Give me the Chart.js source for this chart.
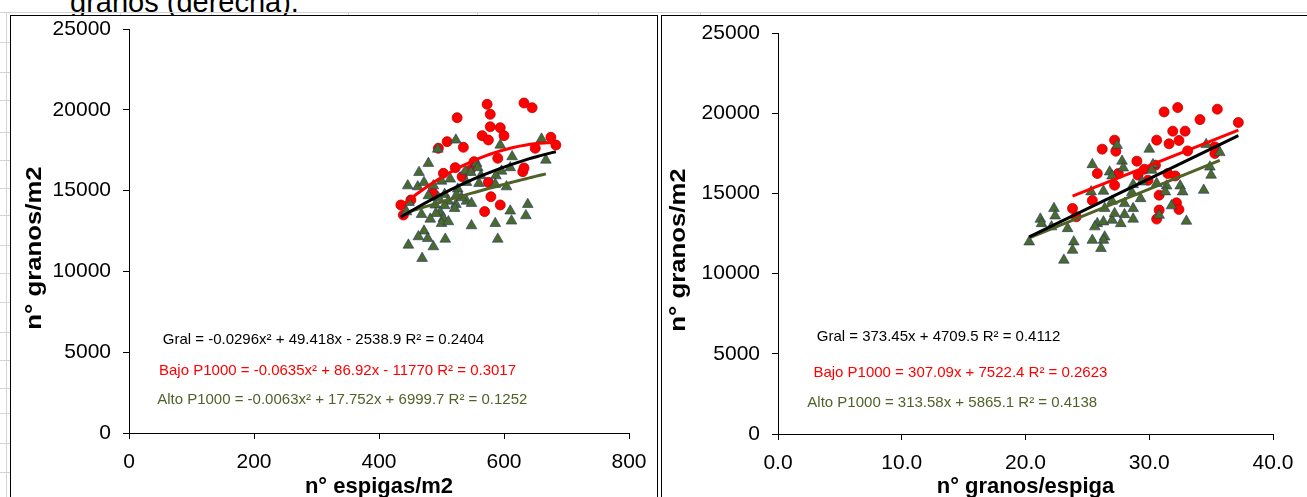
<!DOCTYPE html>
<html>
<head>
<meta charset="utf-8">
<script src="https://cdn.jsdelivr.net/npm/chart.js@4.4.1/dist/chart.umd.min.js"></script>
<style>
  html, body { margin: 0; padding: 0; background: #fff; }
  body { width: 1307px; height: 497px; overflow: hidden; position: relative; font-family: "Liberation Sans", Arial, sans-serif; }
  .gl { position: absolute; background: #d4d4d4; }
  .frame { position: absolute; border: 1px solid #000; background: #fff; }
  .frame canvas { position: absolute; left: 0; top: 0; }
  #topText { position: absolute; left: 70px; top: -12px; font-size: 29px; line-height: 29px; color: #000; white-space: nowrap; }
</style>
</head>
<body>
<div id="topText">granos (derecha).</div>
<div class="gl" style="left:0;top:12px;width:1307px;height:1px"></div>
<div class="gl" style="left:6px;top:12px;width:1px;height:485px"></div>
<div class="gl" style="left:120px;top:12px;width:1px;height:3px"></div>
<div class="gl" style="left:211px;top:12px;width:1px;height:3px"></div>
<div class="gl" style="left:348px;top:12px;width:1px;height:3px"></div>
<div class="gl" style="left:477px;top:12px;width:1px;height:3px"></div>
<div class="gl" style="left:598px;top:12px;width:1px;height:3px"></div>
<div class="gl" style="left:700px;top:12px;width:1px;height:3px"></div>
<div class="gl" style="left:0;top:42px;width:10px;height:1px"></div>
<div class="gl" style="left:0;top:72px;width:10px;height:1px"></div>
<div class="gl" style="left:0;top:100px;width:10px;height:1px"></div>
<div class="gl" style="left:0;top:132px;width:10px;height:1px"></div>
<div class="gl" style="left:0;top:160px;width:10px;height:1px"></div>
<div class="gl" style="left:0;top:188px;width:10px;height:1px"></div>
<div class="gl" style="left:0;top:215px;width:10px;height:1px"></div>
<div class="gl" style="left:0;top:245px;width:10px;height:1px"></div>
<div class="gl" style="left:0;top:273px;width:10px;height:1px"></div>
<div class="gl" style="left:0;top:302px;width:10px;height:1px"></div>
<div class="gl" style="left:0;top:332px;width:10px;height:1px"></div>
<div class="gl" style="left:0;top:360px;width:10px;height:1px"></div>
<div class="gl" style="left:0;top:388px;width:10px;height:1px"></div>
<div class="gl" style="left:0;top:413px;width:10px;height:1px"></div>
<div class="gl" style="left:0;top:443px;width:10px;height:1px"></div>
<div class="gl" style="left:0;top:472px;width:10px;height:1px"></div>

<div class="frame" style="left:10px;top:15px;width:646px;height:500px"><canvas id="c1" width="646" height="481"></canvas></div>
<div class="frame" style="left:661px;top:15px;width:660px;height:500px"><canvas id="c2" width="645" height="481"></canvas></div>

<script>
// ---------------- DATA ----------------
const yTicks = [0, 5000, 10000, 15000, 20000, 25000];
const espigasTicks = [0, 200, 400, 600, 800];
const granosEspigaTicks = [0, 10, 20, 30, 40];

// Left chart: n° espigas/m2 (x) vs n° granos/m2 (y)
const bajoEspigas = [573, 632, 645, 525, 578, 578, 594, 565, 575, 600, 509, 535, 495, 590, 552, 522, 503, 533, 630, 632, 575, 486, 451, 435, 439, 579, 594, 569, 675, 683, 650, 546];
const bajoGranosL = [20340, 20420, 20130, 19510, 19720, 18950, 18890, 18400, 18130, 18400, 18030, 17680, 17620, 17000, 16790, 16420, 16070, 15860, 16170, 16400, 15510, 14870, 14420, 14110, 13490, 14620, 14110, 13700, 18300, 17820, 17620, 16270];

const altoEspigas = [523, 494, 479, 464, 446, 462, 472, 487, 500, 514, 538, 556, 558, 594, 613, 660, 610, 596, 587, 563, 547, 540, 526, 505, 495, 479, 511, 490, 505, 523, 540, 548, 521, 498, 491, 503, 500, 511, 482, 468, 448, 444, 548, 586, 612, 610, 635, 638, 604, 560, 586, 472, 463, 478, 487, 447, 506, 590, 469, 532, 524, 667];
const altoGranosL = [18130, 17570, 16690, 16130, 15300, 15240, 15510, 15300, 15590, 15720, 16210, 16690, 16420, 17820, 17100, 18190, 16420, 16210, 15920, 15920, 16130, 15510, 15100, 14770, 14560, 14690, 14350, 14110, 14070, 14150, 14350, 14210, 13900, 13650, 13590, 13280, 12970, 13080, 13240, 13530, 14270, 13690, 12830, 12970, 13120, 13740, 13450, 14150, 15240, 15450, 15390, 12500, 12150, 12040, 11530, 11630, 12000, 12000, 10810, 14560, 14730, 16890];

// Right chart: n° granos/espiga (x) vs n° granos/m2 (y)
const bajoGranosEsp = [31.2, 32.3, 35.5, 34.1, 37.2, 31.9, 32.9, 30.6, 31.6, 32.4, 27.2, 26.2, 27.3, 33.1, 35.3, 35.3, 29.0, 25.8, 27.5, 29.6, 30.5, 29.1, 29.9, 31.5, 32.1, 27.2, 30.8, 25.4, 23.8, 24.1, 32.2, 32.4, 30.8, 30.6];
const bajoGranosR = [20080, 20350, 20250, 19600, 19420, 18880, 18880, 18320, 18090, 18300, 18320, 17760, 17630, 17650, 17900, 17490, 17010, 16240, 16240, 16510, 16760, 16140, 15820, 16240, 16090, 15510, 14890, 14560, 14060, 13540, 14410, 14000, 13960, 13400];

const altoGranosEsp = [27.4, 30.0, 34.6, 35.7, 25.4, 27.8, 27.9, 26.8, 27.0, 30.3, 30.2, 29.4, 28.7, 30.6, 31.4, 32.5, 32.7, 31.3, 34.9, 35.0, 34.4, 26.3, 25.3, 28.6, 29.3, 27.0, 28.0, 26.4, 28.7, 31.8, 22.3, 22.4, 21.2, 21.3, 22.1, 23.4, 25.8, 26.3, 27.0, 27.7, 28.7, 28.0, 27.2, 25.6, 26.4, 26.3, 25.4, 23.9, 23.8, 26.1, 20.3, 23.1, 33.0, 30.8];
const altoGranosR = [18000, 17760, 18050, 17550, 16800, 17010, 16590, 16340, 16090, 16800, 16450, 15720, 15550, 15620, 15470, 15470, 15100, 15100, 16650, 16140, 15200, 15140, 15100, 15060, 14680, 14520, 14370, 14060, 14060, 14230, 14060, 13600, 13400, 13120, 12920, 12810, 13120, 13230, 13330, 13120, 13400, 13680, 13750, 12920, 12290, 12080, 12080, 11980, 11460, 11570, 11980, 10840, 13270, 13640];

// Trendline coefficients as printed on the chart: [a, b, c] for a*x^2 + b*x + c
const leftGralCoef  = [-0.0296, 49.418, -2538.9];
const leftBajoCoef  = [-0.0635, 86.92, -11770];
const leftAltoCoef  = [-0.0063, 17.752, 6999.7];
const rightGralCoef = [0, 373.45, 4709.5];
const rightBajoCoef = [0, 307.09, 7522.4];
const rightAltoCoef = [0, 313.58, 5865.1];

const leftEquations = [
  "Gral = -0.0296x² + 49.418x - 2538.9 R² = 0.2404",
  "Bajo P1000 = -0.0635x² + 86.92x - 11770 R² = 0.3017",
  "Alto P1000 = -0.0063x² + 17.752x + 6999.7 R² = 0.1252"
];
const rightEquations = [
  "Gral = 373.45x + 4709.5 R² = 0.4112",
  "Bajo P1000 = 307.09x + 7522.4 R² = 0.2623",
  "Alto P1000 = 313.58x + 5865.1 R² = 0.4138"
];
const yTitle = "n° granos/m2";
const leftXTitle = "n° espigas/m2";
const rightXTitle = "n° granos/espiga";

// ---------------- STYLE ----------------
const FONT = '"Liberation Sans", Arial, sans-serif';
const RED = '#FF0000';
const GREEN = '#4F6228';
const TRI = '#4B6B2B';
const BLACK = '#000000';
Chart.defaults.font.family = FONT;

function pts(xs, ys) { return xs.map((x, i) => ({ x: x, y: ys[i] })); }
function trend(coef, xs, n) {
  const lo = Math.min(...xs), hi = Math.max(...xs);
  const out = [];
  for (let i = 0; i <= n; i++) {
    const x = lo + (hi - lo) * i / n;
    out.push({ x: x, y: coef[0] * x * x + coef[1] * x + coef[2] });
  }
  return out;
}

const textPlugin = {
  id: 'textPlugin',
  afterDatasetsDraw(chart, args, opts) {
    const ctx = chart.ctx, xs = chart.scales.x, ys = chart.scales.y, ca = chart.chartArea;
    ctx.save();
    ctx.textAlign = 'left';
    ctx.textBaseline = 'middle';
    (opts.labels || []).forEach(l => {
      ctx.font = l.size + 'px ' + FONT;
      ctx.fillStyle = l.color;
      ctx.fillText(l.text, xs.getPixelForValue(l.x), ys.getPixelForValue(l.y));
    });
    if (opts.yTitle) {
      const t = opts.yTitle;
      ctx.translate(ca.left + t.dx, ca.top + t.dy);
      ctx.rotate(-Math.PI / 2);
      ctx.scale(t.stretch, 1);
      ctx.font = 'bold ' + t.size + 'px ' + FONT;
      ctx.fillStyle = '#000';
      ctx.textAlign = 'center';
      ctx.fillText(t.text, 0, 0);
    }
    ctx.restore();
  }
};

function makeChart(id, cfg) {
  const xAxis = {
    type: 'linear', min: cfg.xTicks[0], max: cfg.xTicks[cfg.xTicks.length - 1],
    afterBuildTicks: s => { s.ticks = cfg.xTicks.map(v => ({ value: v })); },
    ticks: { font: { size: 21 }, color: '#000', padding: 11, maxRotation: 0, autoSkip: false,
             callback: v => cfg.xFmt(v) },
    grid: { display: true, drawOnChartArea: false, drawTicks: true, tickLength: 6, tickColor: '#000', tickWidth: 1 },
    border: { display: true, color: '#000', width: 1 },
    title: { display: true, text: cfg.xTitle, color: '#000', font: { size: 22, weight: 'bold', lineHeight: 1 }, padding: { top: 0, bottom: -1 } },
    afterFit: s => { s.height = cfg.xH; s.paddingLeft = 0; s.paddingRight = 0; }
  };
  const yAxis = {
    type: 'linear', min: 0, max: 25000,
    afterBuildTicks: s => { s.ticks = yTicks.map(v => ({ value: v })); },
    ticks: { font: { size: 21 }, color: '#000', padding: 12, autoSkip: false, callback: v => String(v) },
    grid: { display: true, drawOnChartArea: false, drawTicks: true, tickLength: 6, tickColor: '#000', tickWidth: 1 },
    border: { display: true, color: '#000', width: 1 },
    afterFit: s => { s.width = cfg.yW; s.paddingTop = 0; s.paddingBottom = 0; }
  };
  return new Chart(document.getElementById(id), {
    type: 'scatter',
    data: {
      datasets: [
        { data: cfg.gral, showLine: true, pointRadius: 0, borderColor: BLACK, borderWidth: 3, order: 0, tension: 0 },
        { data: cfg.bajoLine, showLine: true, pointRadius: 0, borderColor: RED, borderWidth: 3, order: 0, tension: 0 },
        { data: cfg.altoLine, showLine: true, pointRadius: 0, borderColor: GREEN, borderWidth: 3, order: 0, tension: 0 },
        { data: cfg.alto, pointStyle: 'triangle', pointRadius: 6.2, backgroundColor: TRI, borderColor: '#22336e', borderWidth: 0.6, order: 1 },
        { data: cfg.bajo, pointStyle: 'circle', pointRadius: 5, backgroundColor: RED, borderColor: '#c00000', borderWidth: 0.8, order: 2 }
      ]
    },
    options: {
      responsive: false, animation: false, events: [],
      layout: { padding: cfg.pad },
      plugins: { legend: { display: false }, tooltip: { enabled: false },
                 textPlugin: { labels: cfg.labels, yTitle: cfg.yTitleOpt } },
      scales: { x: xAxis, y: yAxis }
    },
    plugins: [textPlugin]
  });
}

makeChart('c1', {
  xTicks: espigasTicks, xFmt: v => String(v), xTitle: leftXTitle, xH: 64, yW: 118,
  pad: { top: 13, right: 28, left: 0, bottom: 0 },
  bajo: pts(bajoEspigas, bajoGranosL), alto: pts(altoEspigas, altoGranosL),
  gral: trend(leftGralCoef, bajoEspigas.concat(altoEspigas), 40),
  bajoLine: trend(leftBajoCoef, bajoEspigas, 40),
  altoLine: trend(leftAltoCoef, altoEspigas, 40),
  labels: [
    { text: leftEquations[0], color: BLACK, size: 15, x: 54, y: 5755 },
    { text: leftEquations[1], color: RED, size: 15, x: 48, y: 3855 },
    { text: leftEquations[2], color: GREEN, size: 15, x: 45, y: 2042 }
  ],
  yTitleOpt: { text: yTitle, size: 22, stretch: 1.17, dx: -94, dy: 219 }
});

makeChart('c2', {
  xTicks: granosEspigaTicks, xFmt: v => v.toFixed(1), xTitle: rightXTitle, xH: 63, yW: 116,
  pad: { top: 17, right: 34, left: 0, bottom: 0 },
  bajo: pts(bajoGranosEsp, bajoGranosR), alto: pts(altoGranosEsp, altoGranosR),
  gral: trend(rightGralCoef, bajoGranosEsp.concat(altoGranosEsp), 1),
  bajoLine: trend(rightBajoCoef, bajoGranosEsp, 1),
  altoLine: trend(rightAltoCoef, altoGranosEsp, 1),
  labels: [
    { text: rightEquations[0], color: BLACK, size: 15, x: 3.13, y: 6062 },
    { text: rightEquations[1], color: RED, size: 15, x: 2.86, y: 3782 },
    { text: rightEquations[2], color: GREEN, size: 15, x: 2.37, y: 1913 }
  ],
  yTitleOpt: { text: yTitle, size: 22, stretch: 1.17, dx: -99.5, dy: 217 }
});
</script>
</body>
</html>
